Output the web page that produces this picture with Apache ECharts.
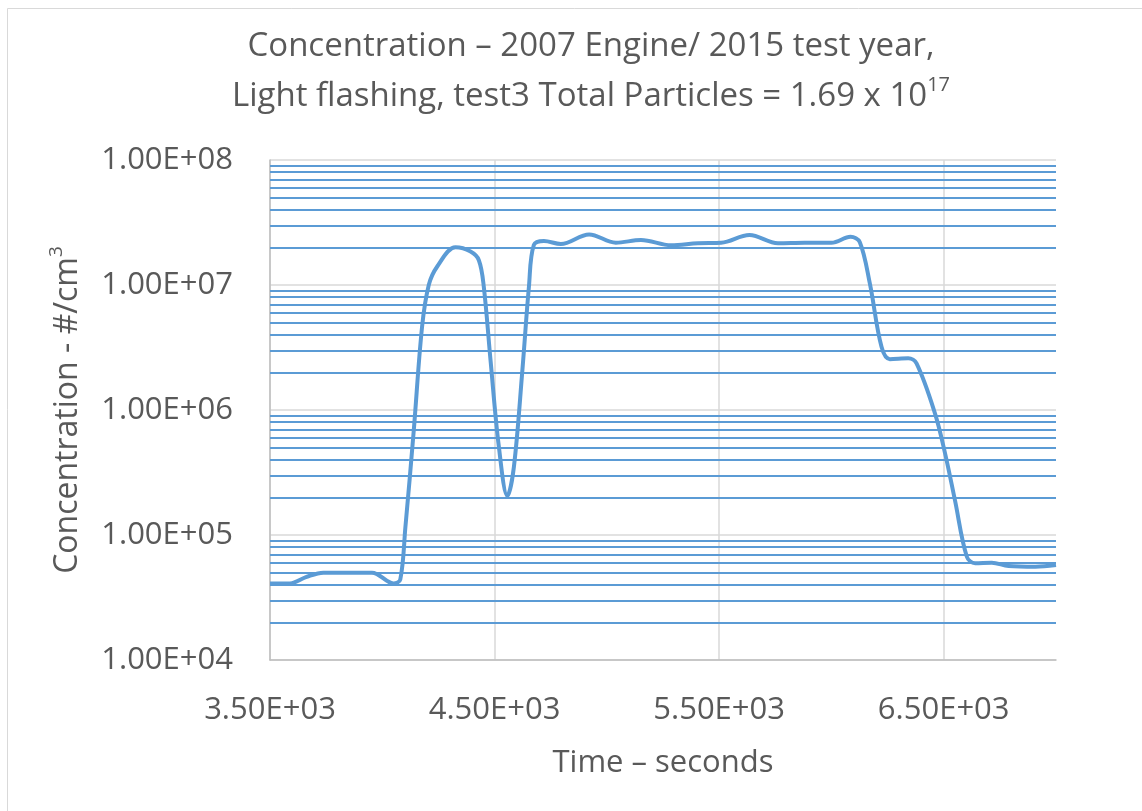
<!DOCTYPE html>
<html>
<head>
<meta charset="utf-8">
<script src="https://cdn.jsdelivr.net/npm/echarts@6/dist/echarts.min.js"></script>
<style>
  html, body { margin: 0; padding: 0; background: #fff; }
  #chart { width: 1142px; height: 811px; }
</style>
</head>
<body>
<div id="chart"></div>
<script>
// time in seconds, concentration in #/cm3
var times = [3500, 3589, 3660, 3738, 3954, 4050, 4080, 4103, 4140, 4177, 4207, 4244, 4326, 4393, 4430,
             4452, 4482, 4519, 4557, 4586, 4624, 4653, 4675, 4720, 4795, 4921, 5040, 5152, 5286,
             5405, 5509, 5635, 5762, 5881, 6000, 6085, 6126, 6171, 6223, 6260, 6342, 6379, 6461,
             6506, 6550, 6603, 6640, 6714, 6789, 6908, 7000];
var conc = [4.1e4, 4.1e4, 4.6e4, 5.0e4, 5.0e4, 4.1e4, 4.4e4, 1.16e5, 6.8e5, 4.6e6, 1.0e7, 1.4e7, 2.0e7, 1.85e7, 1.58e7,
            9.7e6, 2.5e6, 5.1e5, 2.05e5, 3.5e5, 2.1e6, 9.7e6, 2.09e7, 2.25e7, 2.13e7, 2.54e7, 2.18e7, 2.29e7, 2.08e7,
            2.16e7, 2.18e7, 2.51e7, 2.16e7, 2.18e7, 2.18e7, 2.43e7, 2.21e7, 1.03e7, 3.2e6, 2.55e6, 2.59e6, 2.36e6, 9.4e5,
            4.5e5, 1.9e5, 6.7e4, 5.94e4, 6.0e4, 5.65e4, 5.58e4, 5.75e4];

// x ticks / y decades
var xMin = 3500, xMax = 7000, xStep = 1000;
var yMin = 1e4, yMax = 1e8;
var decades = [1e4, 1e5, 1e6, 1e7];
var minorSteps = [2, 3, 4, 5, 6, 7, 8, 9];

var FONT = '"Open Sans", "Noto Sans", sans-serif';
var TXT = '#595959';
var BLUE = '#5B9BD5';

function sci(v) {
    var e = Math.floor(Math.log10(v) + 1e-9);
    var m = v / Math.pow(10, e);
    var a = Math.abs(e);
    return m.toFixed(2) + 'E' + (e < 0 ? '-' : '+') + (a < 10 ? '0' : '') + a;
}

var lineData = times.map(function (t, i) { return [t, conc[i]]; });

// blue minor gridlines 2..9 x each decade
var minorLines = [];
decades.forEach(function (d) {
    minorSteps.forEach(function (k) { minorLines.push({ yAxis: d * k }); });
});

var chart = echarts.init(document.getElementById('chart'));
var option = {
    backgroundColor: '#fff',
    animation: false,
    textStyle: { fontFamily: FONT },
    title: {
        text: '{n|Concentration – 2007 Engine/ 2015 test year,}\n{n|Light flashing, test3 Total Particles = 1.69 x 10}{sup|17}',
        left: 586,
        top: 17,
        textAlign: 'center',
        textStyle: {
            fontWeight: 'normal',
            rich: {
                n: { fontFamily: FONT, fontSize: 33, fontWeight: 'normal', color: TXT, lineHeight: 50 },
                sup: { fontFamily: FONT, fontSize: 20, fontWeight: 'normal', color: TXT, lineHeight: 50, verticalAlign: 'top', padding: [3, 0, 0, 0] }
            }
        }
    },
    graphic: [
        { type: 'line', shape: { x1: 7.5, y1: 8.5, x2: 7.5, y2: 811 }, style: { stroke: '#D9D9D9', lineWidth: 1 } },
        { type: 'line', shape: { x1: 7.5, y1: 8.5, x2: 1142, y2: 8.5 }, style: { stroke: '#D9D9D9', lineWidth: 1 } }
    ],
    grid: { left: 270, right: 86, top: 160, bottom: 151 },
    xAxis: {
        type: 'value',
        min: xMin,
        max: xMax,
        interval: xStep,
        name: 'Time – seconds',
        nameLocation: 'middle',
        nameGap: 88,
        nameTextStyle: { fontFamily: FONT, fontSize: 31, color: TXT },
        axisLine: { show: true, lineStyle: { color: '#BFBFBF', width: 1.5 } },
        axisTick: { show: false },
        axisLabel: {
            margin: 35, fontSize: 31, color: TXT, fontFamily: FONT,
            showMaxLabel: false,
            formatter: function (v) { return sci(v); }
        },
        splitLine: { show: true, showMaxLine: false, lineStyle: { color: '#D9D9D9', width: 1.5 } }
    },
    yAxis: {
        type: 'log',
        logBase: 10,
        min: yMin,
        max: yMax,
        interval: 1,
        name: '{n|Concentration - #/cm}{sup|3}',
        nameLocation: 'middle',
        nameRotate: 90,
        nameGap: 181,
        nameTextStyle: {
            rich: {
                n: { fontFamily: FONT, fontSize: 32, color: TXT, lineHeight: 42 },
                sup: { fontFamily: FONT, fontSize: 19, color: TXT, lineHeight: 42, verticalAlign: 'top', padding: [0, 0, 0, 0] }
            }
        },
        axisLine: { show: true, lineStyle: { color: '#BFBFBF', width: 1.5 } },
        axisTick: { show: false },
        axisLabel: {
            margin: 37, fontSize: 31, color: TXT, fontFamily: FONT,
            formatter: function (v) { return sci(v); }
        },
        splitLine: { show: true, lineStyle: { color: '#D9D9D9', width: 1.5 } }
    },
    series: [
        {
            name: 'minor',
            type: 'line',
            data: [],
            silent: true,
            z: 1,
            markLine: {
                silent: true,
                symbol: 'none',
                label: { show: false },
                lineStyle: { color: BLUE, width: 2, type: 'solid' },
                data: minorLines
            }
        },
        {
            name: 'Concentration',
            type: 'line',
            data: lineData,
            smooth: 0.35,
            showSymbol: false,
            z: 3,
            lineStyle: { color: BLUE, width: 4 },
            itemStyle: { color: BLUE }
        }
    ]
};
chart.setOption(option);
</script>
</body>
</html>
